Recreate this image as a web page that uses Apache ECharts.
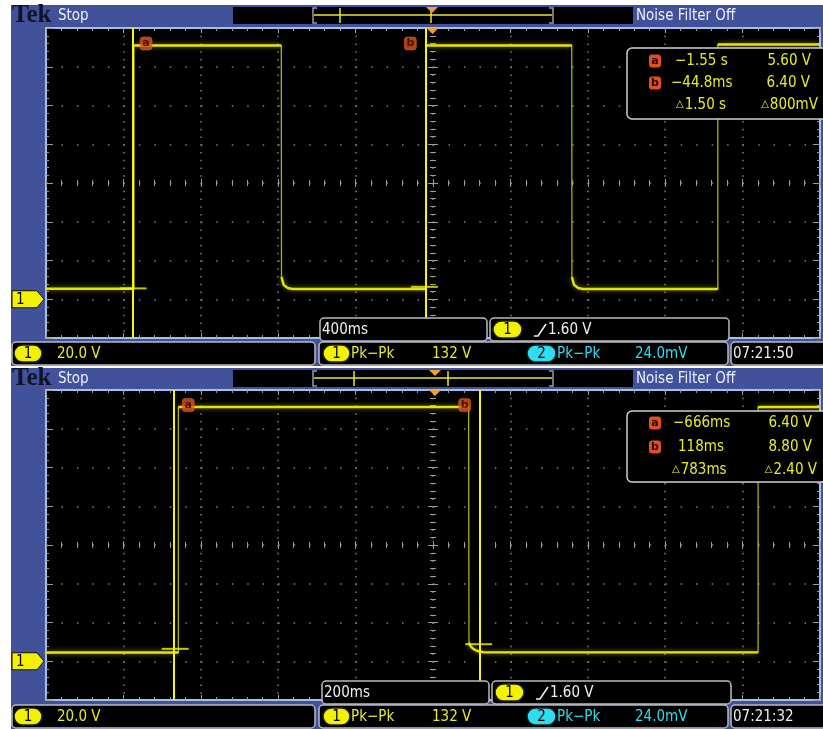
<!DOCTYPE html>
<html><head><meta charset="utf-8">
<script src="https://cdn.jsdelivr.net/npm/echarts@6/dist/echarts.min.js"></script>
<style>html,body{margin:0;padding:0;background:#fff}#c{width:823px;height:729px}</style>
</head><body><div id="c"></div>
<script>
// ---------------- data ----------------
// top capture: 400 ms/div, bottom capture: 200 ms/div, both 20.0 V/div
const topTime = [-2.000, -1.545, -1.545, -0.784, -0.783, -0.772, -0.751, -0.726, -0.035, -0.035, 0.717, 0.718, 0.729, 0.750, 0.775, 1.472, 1.472, 2.000];
const topVolt = [5.4, 5.4, 131.0, 131.0, 11.5, 7.4, 5.8, 5.3, 5.3, 131.0, 131.0, 11.5, 7.4, 5.8, 5.3, 5.3, 131.5, 131.5];
const botTime = [-1.000, -0.658, -0.658, 0.092, 0.093, 0.097, 0.104, 0.115, 0.132, 0.840, 0.840, 1.000];
const botVolt = [4.5, 4.5, 131.2, 131.2, 9.5, 7.8, 6.4, 5.3, 4.6, 4.6, 131.2, 131.2];

const cursorNames = ['a', 'b'];
const topCursorTime = [-1.55, -0.0448];
const topCursorVolt = [5.60, 6.40];
const botCursorTime = [-0.666, 0.118];
const botCursorVolt = [6.40, 8.80];
const topHighLevel = 131.0;
const botHighLevel = 131.2;

const topReadTime = ['\u22121.55 s', '\u221244.8ms', '1.50 s'];
const topReadVolt = ['5.60 V', '6.40 V', '800mV'];
const botReadTime = ['\u2212666ms', '118ms', '783ms'];
const botReadVolt = ['6.40 V', '8.80 V', '2.40 V'];

const topTimebase = '400ms', botTimebase = '200ms';
const chScale = '20.0 V';
const pkLabel = 'Pk\u2212Pk';
const pkpk1 = '132 V', pkpk2 = '24.0mV';
const trigLevel = '1.60 V';
const topClock = '07:21:50', botClock = '07:21:32';
const topX = [-2, 2, 0.4];   // min, max, interval (s)
const botX = [-1, 1, 0.2];
const yScale = [-20, 140, 20]; // V

// ---------------- style ----------------
const FONT = "'Liberation Sans Narrow','DejaVu Sans Condensed','Liberation Sans',sans-serif";
const BLUE = '#41519a', BORDER = '#a2c0e8', TICK = '#9c9c9c', DOT = '#808080';
const YEL = '#e8e82a', WAVE = '#e4e400', CUR = '#f6f600', CYAN = '#2fdcf0', GRAYB = '#b9b9c2', ORANGE = '#f0a030', MARK = '#e0501c';

const chart = echarts.init(document.getElementById('c'), null, {renderer: 'canvas'});

const grids = [
  {left: 46, top: 28, width: 774, height: 310},
  {left: 46, top: 390, width: 774, height: 310}
];

function axesFor(gi, xr) {
  const ox = gi * 4, oy = gi * 5;
  const xs = [
    {type: 'value', gridIndex: gi, position: 'bottom', min: xr[0], max: xr[1], interval: xr[2],
     axisLine: {show: true, onZero: false, lineStyle: {color: BORDER, width: 2}},
     axisTick: {show: true, inside: true, length: 5, lineStyle: {color: TICK}},
     minorTick: {show: true, splitNumber: 5, length: 3, lineStyle: {color: TICK}},
     axisLabel: {show: false},
     splitLine: {show: true, lineStyle: {color: DOT, width: 1.5, type: [1.5, 6.25]}}},
    {type: 'value', gridIndex: gi, position: 'top', min: xr[0], max: xr[1], interval: xr[2],
     axisLine: {show: true, onZero: false, lineStyle: {color: BORDER, width: 2}},
     axisTick: {show: true, inside: true, length: 5, lineStyle: {color: TICK}},
     minorTick: {show: true, splitNumber: 5, length: 3, lineStyle: {color: TICK}},
     axisLabel: {show: false}, splitLine: {show: false}},
    {type: 'value', gridIndex: gi, position: 'bottom', min: xr[0], max: xr[1], interval: xr[2],
     axisLine: {show: false, onZero: true, onZeroAxisIndex: oy + 2},
     axisTick: {show: true, inside: true, length: 4, lineStyle: {color: TICK}},
     minorTick: {show: true, splitNumber: 5, length: 3, lineStyle: {color: TICK}},
     axisLabel: {show: false}, splitLine: {show: false}},
    {type: 'value', gridIndex: gi, position: 'bottom', min: xr[0], max: xr[1], interval: xr[2],
     axisLine: {show: false, onZero: true, onZeroAxisIndex: oy + 2},
     axisTick: {show: true, inside: false, length: 4, lineStyle: {color: TICK}},
     minorTick: {show: true, splitNumber: 5, length: 3, lineStyle: {color: TICK}},
     axisLabel: {show: false}, splitLine: {show: false}}
  ];
  const ys = [
    {type: 'value', gridIndex: gi, position: 'left', min: yScale[0], max: yScale[1], interval: yScale[2],
     axisLine: {show: true, onZero: false, lineStyle: {color: BORDER, width: 2}},
     axisTick: {show: true, inside: true, length: 7, lineStyle: {color: TICK}},
     minorTick: {show: true, splitNumber: 5, length: 3, lineStyle: {color: TICK}},
     axisLabel: {show: false},
     splitLine: {show: true, lineStyle: {color: DOT, width: 1.5, type: [1.5, 13.98]}}},
    {type: 'value', gridIndex: gi, position: 'right', min: yScale[0], max: yScale[1], interval: yScale[2],
     axisLine: {show: true, onZero: false, lineStyle: {color: BORDER, width: 2}},
     axisTick: {show: true, inside: true, length: 7, lineStyle: {color: TICK}},
     minorTick: {show: true, splitNumber: 5, length: 3, lineStyle: {color: TICK}},
     axisLabel: {show: false}, splitLine: {show: false}},
    {type: 'value', gridIndex: gi, position: 'left', min: -4, max: 4, show: false,
     axisLine: {onZero: false}},
    {type: 'value', gridIndex: gi, position: 'left', min: yScale[0], max: yScale[1], interval: yScale[2],
     axisLine: {show: false, onZero: true, onZeroAxisIndex: ox},
     axisTick: {show: true, inside: true, length: 5, lineStyle: {color: TICK}},
     minorTick: {show: true, splitNumber: 5, length: 3, lineStyle: {color: TICK}},
     axisLabel: {show: false}, splitLine: {show: false}},
    {type: 'value', gridIndex: gi, position: 'left', min: yScale[0], max: yScale[1], interval: yScale[2],
     axisLine: {show: false, onZero: true, onZeroAxisIndex: ox},
     axisTick: {show: true, inside: false, length: 5, lineStyle: {color: TICK}},
     minorTick: {show: true, splitNumber: 5, length: 3, lineStyle: {color: TICK}},
     axisLabel: {show: false}, splitLine: {show: false}}
  ];
  return {xs, ys};
}

function pairs(ts, vs) { return ts.map((t, i) => [t, vs[i]]); }
function levelsOnly(ts, vs) {
  const out = [];
  ts.forEach((t, i) => {
    if (i > 0 && Math.abs(vs[i] - vs[i - 1]) > 50) out.push(null);
    out.push([t, vs[i]]);
  });
  return out;
}

function seriesFor(gi, ts, vs, cT, cV, high) {
  const xi = gi * 4, yi = gi * 5;
  return [
    {type: 'line', xAxisIndex: xi, yAxisIndex: yi, data: pairs(ts, vs), symbol: 'none', z: 3,
     lineStyle: {color: '#b0b000', width: 1.3}, clip: true,
     markLine: {silent: true, symbol: ['none', 'none'], label: {show: false},
       lineStyle: {color: CUR, width: 2, type: 'solid'},
       data: cT.map(t => ({xAxis: t}))}},
    {type: 'line', xAxisIndex: xi, yAxisIndex: yi, data: levelsOnly(ts, vs), symbol: 'none', z: 4,
     connectNulls: false,
     lineStyle: {color: WAVE, width: 2.4, shadowBlur: 5, shadowColor: 'rgba(220,220,0,0.6)'}},
    {type: 'scatter', xAxisIndex: xi, yAxisIndex: yi, z: 6,
     data: cT.map((t, i) => [t, cV[i]]), symbol: 'rect', symbolSize: [27, 2],
     itemStyle: {color: CUR}},
    {type: 'scatter', xAxisIndex: xi, yAxisIndex: yi, z: 7,
     data: cT.map((t, i) => ({value: [t, high], name: cursorNames[i], symbolOffset: [i === 0 ? 13 : -14, -2]})),
     symbol: 'roundRect', symbolSize: [12, 13],
     itemStyle: {color: MARK, borderColor: '#ff7a40', borderWidth: 0.5},
     label: {show: true, position: 'inside', formatter: '{b}', color: '#2a0600', fontSize: 11, fontWeight: 'bold', fontFamily: 'DejaVu Sans'}}
  ];
}

const A0 = axesFor(0, topX), A1 = axesFor(1, botX);

chart.setOption({
  animation: false,
  backgroundColor: '#ffffff',
  textStyle: {fontFamily: FONT},
  grid: grids,
  xAxis: A0.xs.concat(A1.xs),
  yAxis: A0.ys.concat(A1.ys),
  series: seriesFor(0, topTime, topVolt, topCursorTime, topCursorVolt, topHighLevel)
    .concat(seriesFor(1, botTime, botVolt, botCursorTime, botCursorVolt, botHighLevel))
});

// ---------------- decorations ----------------
function T(x, y, s, color, size, align, extra) {
  return Object.assign({type: 'text', x, y, z: 60,
    style: {text: s, fill: color, font: size + 'px ' + FONT, align: align || 'left', verticalAlign: 'middle'}}, extra || {});
}
function R(x, y, w, h, fill, stroke, r, z) {
  return {type: 'rect', z: z == null ? 55 : z, shape: {x, y, width: w, height: h, r: r || 0},
    style: {fill: fill, stroke: stroke || null, lineWidth: stroke ? 1.5 : 0}};
}
function PL(points, stroke, lw, z) {
  return {type: 'polyline', z: z == null ? 58 : z, shape: {points}, style: {stroke, lineWidth: lw || 1.5, fill: null}};
}
function PG(points, fill, stroke, z) {
  return {type: 'polygon', z: z == null ? 58 : z, shape: {points}, style: {fill, stroke: stroke || null, lineWidth: stroke ? 1 : 0}};
}
function pill(x, y, w, h, fill, label) {
  return [R(x, y, w, h, fill, '#202020', h / 2, 57),
    T(x + w / 2, y + h / 2 + 0.5, label, '#000', 15, 'center', {z: 61})];
}
function icon(cx, cy, letter) {
  return [R(cx - 6, cy - 6.5, 12, 13, MARK, null, 3, 57),
    {type: 'text', x: cx, y: cy, z: 61, style: {text: letter, fill: '#2a0600', font: 'bold 11px DejaVu Sans', align: 'center', verticalAlign: 'middle'}}];
}
function delta(x, y, s, align) {
  return {type: 'text', x, y, z: 60, style: {text: '{d|\u25B3}{t|' + s + '}', align, verticalAlign: 'middle',
    rich: {d: {fill: YEL, font: '10px DejaVu Sans', padding: [0, 1, 1, 0]}, t: {fill: YEL, font: '15px ' + FONT}}}};
}

function panelGraphics(c) {
  const dy = c.dy, g = c.grid, els = [];
  // panel background and plot background
  els.push(R(11, 5 + dy, 812, 361, BLUE, null, 0, -10));
  els.push(R(g.left, g.top, g.width, g.height, '#000', null, 0, -9));
  // header
  els.push({type: 'text', x: 12, y: 16 + dy, z: 60, style: {text: 'Tek', fill: '#12122a', font: 'bold 25px "Liberation Serif", "DejaVu Serif", serif', align: 'left', verticalAlign: 'middle'}});
  els.push(T(58, 16 + dy, 'Stop', '#eef0ff', 15));
  els.push(T(636, 16 + dy, 'Noise Filter Off', '#eef0ff', 15));
  els.push(R(233, 7 + dy, 400, 17, '#000', null, 0, 52));
  els.push(PL([[317, 8 + dy], [313, 8 + dy], [313, 23 + dy], [317, 23 + dy]], '#9a9aaa', 1.5));
  els.push(PL([[549, 8 + dy], [553, 8 + dy], [553, 23 + dy], [549, 23 + dy]], '#9a9aaa', 1.5));
  els.push(PL([[314, 15 + dy], [552, 15 + dy]], YEL, 1.5));
  c.recMarks.forEach(x => els.push(PL([[x, 8 + dy], [x, 23 + dy]], YEL, 1.5)));
  els.push(PG([[c.trigX - 6, 7 + dy], [c.trigX + 6, 7 + dy], [c.trigX, 13 + dy]], ORANGE, null, 59));
  // trigger position marker at plot top
  els.push(PG([[c.plotTrigX - 6, g.top], [c.plotTrigX + 6, g.top], [c.plotTrigX, g.top + 6]], ORANGE, null, 59));
  // ground reference marker
  const gy = chart.convertToPixel({yAxisIndex: c.yIdx}, 0);
  els.push(PG([[12, gy - 8.5], [37, gy - 8.5], [44, gy], [37, gy + 8.5], [12, gy + 8.5]], '#f2f200', '#111', 59));
  els.push(T(16, gy + 0.5, '1', '#000', 15, 'left', {z: 61}));
  // cursor readout box
  els.push(R(627, c.readY, 200, 71, '#000', '#cfcfd4', 5, 54));
  els.push(...icon(655, c.rows[0], 'a'));
  els.push(...icon(655, c.rows[1], 'b'));
  els.push(T(c.tx[0], c.rows[0], c.readTime[0], YEL, 15));
  els.push(T(c.tx[1], c.rows[1], c.readTime[1], YEL, 15));
  els.push(delta(c.tx[2], c.rows[2], c.readTime[2], 'left'));
  els.push(T(c.vx[0], c.rows[0], c.readVolt[0], YEL, 15, 'right'));
  els.push(T(c.vx[1], c.rows[1], c.readVolt[1], YEL, 15, 'right'));
  els.push(delta(c.vx[2], c.rows[2], c.readVolt[2], 'right'));
  // timebase box & trigger box
  const by = c.boxY;
  els.push(R(c.tbX, by, 167, 23, '#000', GRAYB, 4, 54));
  els.push(T(c.tbX + 2, by + 12, c.timebase, '#f0f0f0', 15));
  els.push(R(c.trX, by, 239, 23, '#000', GRAYB, 4, 54));
  els.push(...pill(c.trX + 3, by + 3, 29, 17, '#f2f200', '1'));
  els.push(PL([[c.trX + 44, by + 18], [c.trX + 48, by + 18], [c.trX + 56, by + 6]], '#f0f0f0', 1.6, 60));
  els.push(T(c.trX + 58, by + 12, trigLevel, '#f0f0f0', 15));
  // status bar
  const sy = c.statY;
  els.push(R(12, sy, 303, 23, '#000', GRAYB, 4, 54));
  els.push(...pill(14, sy + 3, 28, 17, '#f2f200', '1'));
  els.push(T(57, sy + 12, chScale, YEL, 15));
  els.push(R(319, sy, 409, 23, '#000', GRAYB, 4, 53));
  els.push(...pill(323, sy + 3, 27, 17, '#f2f200', '1'));
  els.push(T(351, sy + 12, pkLabel, YEL, 15));
  els.push(T(432, sy + 12, pkpk1, YEL, 15));
  els.push(...pill(527, sy + 3, 29, 17, CYAN, '2'));
  els.push(T(557, sy + 12, pkLabel, CYAN, 15));
  els.push(T(635, sy + 12, pkpk2, CYAN, 15));
  els.push(R(731, sy, 96, 23, '#000', GRAYB, 4, 54));
  els.push(T(733, sy + 12, c.clock, '#eeeeee', 15));
  return els;
}

const graphics = panelGraphics({
  dy: 0, grid: grids[0], yIdx: 0, recMarks: [340, 431], trigX: 432, plotTrigX: 432.5,
  readY: 48, rows: [61, 83, 105], tx: [675, 671, 676], vx: [811, 810, 818],
  readTime: topReadTime, readVolt: topReadVolt, timebase: topTimebase,
  tbX: 320, trX: 490, boxY: 318, statY: 342, clock: topClock
}).concat(panelGraphics({
  dy: 363, grid: grids[1], yIdx: 5, recMarks: [354, 448], trigX: 435, plotTrigX: 435,
  readY: 411, rows: [423, 447, 470], tx: [673, 678, 672], vx: [812, 812, 817],
  readTime: botReadTime, readVolt: botReadVolt, timebase: botTimebase,
  tbX: 322, trX: 492, boxY: 681, statY: 705, clock: botClock
}));

chart.setOption({graphic: {elements: graphics}});
</script>
</body></html>
